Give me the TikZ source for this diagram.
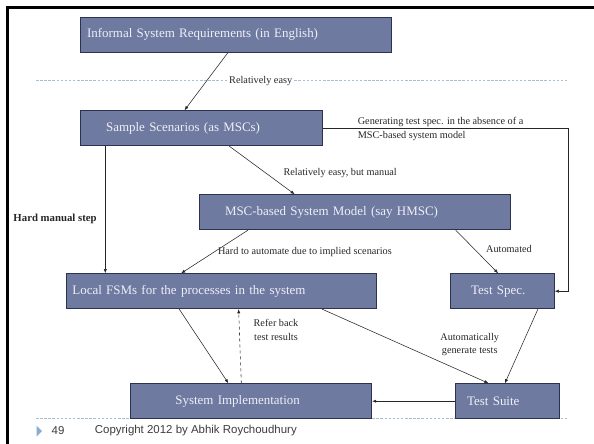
\documentclass[tikz,border=0pt]{standalone}
\usepackage{fontspec}
\setmainfont{Liberation Serif}
\newfontfamily\footfont{Liberation Sans}
\usetikzlibrary{arrows.meta}

\definecolor{boxfill}{RGB}{111,122,161}
\definecolor{boxline}{RGB}{44,50,80}
\definecolor{boxtext}{RGB}{238,239,246}
\definecolor{rulecol}{RGB}{168,190,212}
\definecolor{marker}{RGB}{140,172,204}
\definecolor{foottext}{RGB}{60,60,60}

\tikzset{
  box/.style={rectangle, draw=boxline, line width=0.8bp, fill=boxfill,
    text=boxtext, font=\fontsize{13}{15}\selectfont, inner xsep=0pt,
    inner ysep=0pt, minimum height=35bp, align=left, anchor=north west},
  conn/.style={draw=black!85, line width=0.55bp,
    -{Latex[length=4.2bp,width=3.2bp]}},
  lbl/.style={inner sep=0pt, text=black!85,
    font=\fontsize{10.3}{14}\selectfont},
  sepline/.style={draw=rulecol, line width=0.8bp, dash pattern=on 2.5bp off 1.6bp},
}

\begin{document}
\begin{tikzpicture}[x=1bp, y=-1bp]
  \useasboundingbox (0,0) rectangle (594,444);

  % slide frame (top and left edges)
  \draw[line width=2.6bp, black] (7.5,444) -- (7.5,7.8) -- (594,7.8);

  % separator rules
  \draw[sepline] (36,80.7) -- (568,80.7);
  \draw[sepline] (36,418.5) -- (568,418.5);

  % boxes
  \node[box, text width=311.3bp] (req) at (80,16.7)
    {\hspace*{6.7bp}Informal System Requirements (in English)};
  \node[box, text width=242.3bp] (scen) at (80,110.3)
    {\hspace*{25.7bp}Sample Scenarios (as MSCs)};
  \node[box, text width=310.6bp] (hmsc) at (198.9,194.3)
    {\hspace*{25.7bp}MSC-based System Model (say HMSC)};
  \node[box, text width=309.8bp] (fsm) at (66.3,273.3)
    {\hspace*{5.7bp}Local FSMs for the processes in the system};
  \node[box, text width=103.8bp] (spec) at (450,273.3)
    {\hspace*{20.8bp}Test Spec.};
  \node[box, text width=241.3bp] (impl) at (129.9,383.3)
    {\hspace*{45.1bp}System Implementation};
  \node[box, text width=104.2bp] (suite) at (454.5,383.3)
    {\hspace*{12.2bp}Test Suite};

  % connectors
  \draw[conn] ([xshift=148bp]req.south west) -- ([xshift=104.5bp]scen.north west);
  \draw[conn] ([xshift=149.2bp]scen.south west) -- ([xshift=95.8bp]hmsc.north west);
  \draw[conn] ([xshift=25.3bp]scen.south west) -- ([xshift=25.3bp]scen.south west |- fsm.north);
  \coordinate (bend) at (568,127.7);
  \draw[conn] (scen.east) -- (scen.east -| bend) |- (spec.east);
  \draw[conn] ([xshift=49.2bp]hmsc.south west) -- ([xshift=114.8bp]fsm.north west);
  \draw[conn] ([xshift=256.8bp]hmsc.south west) -- ([xshift=48.1bp]spec.north west);
  \draw[conn] ([xshift=112.9bp]fsm.south west) -- ([xshift=98.5bp]impl.north west);
  \draw[conn, dashed] ([xshift=111.4bp]impl.north west) -- ([xshift=172.3bp]fsm.south west);
  \draw[conn] ([xshift=255.7bp]fsm.south west) -- ([xshift=34.1bp]suite.north west);
  \draw[conn] ([xshift=87.9bp]spec.south west) -- ([xshift=50.4bp]suite.north west);
  \draw[conn] (suite.west) -- (suite.west -| impl.east);

  % connector labels
  \node[lbl, anchor=west, fill=white, inner xsep=1.5bp] (l1) at (227.5,80.7) {Relatively easy};
  \node[lbl, anchor=west, align=left] (l2) at (357.6,128.6)
    {Generating test spec. in the absence of a\\MSC-based system model};
  \node[lbl, anchor=west, font=\fontsize{10.8}{13}\selectfont\bfseries] (l3) at (13.3,219.3) {Hard manual step};
  \node[lbl, anchor=west] (l4) at (283.3,172.7) {Relatively easy, but manual};
  \node[lbl, anchor=west] (l5) at (217.8,252.3) {Hard to automate due to implied scenarios};
  \node[lbl, anchor=west] (l6) at (486,248.7) {Automated};
  \node[lbl, align=center, font=\fontsize{10.3}{13.7}\selectfont] (l7) at (276,330.2) {Refer back\\test results};
  \node[lbl, align=center, font=\fontsize{10.3}{13.4}\selectfont] (l8) at (469.7,344.3) {Automatically\\generate tests};

  % footer
  \fill[marker] (36.5,425.5) -- (42,431) -- (36.5,436.5) -- cycle;
  \node[anchor=west, inner sep=0pt, text=foottext, font=\footfont\fontsize{11.5}{13}\selectfont] (pg) at (51.5,430.5) {49};
  \node[anchor=west, inner sep=0pt, text=foottext, font=\footfont\fontsize{11.5}{13}\selectfont] (copy) at (94.7,430.5) {Copyright 2012 by Abhik Roychoudhury};
\end{tikzpicture}
\end{document}
